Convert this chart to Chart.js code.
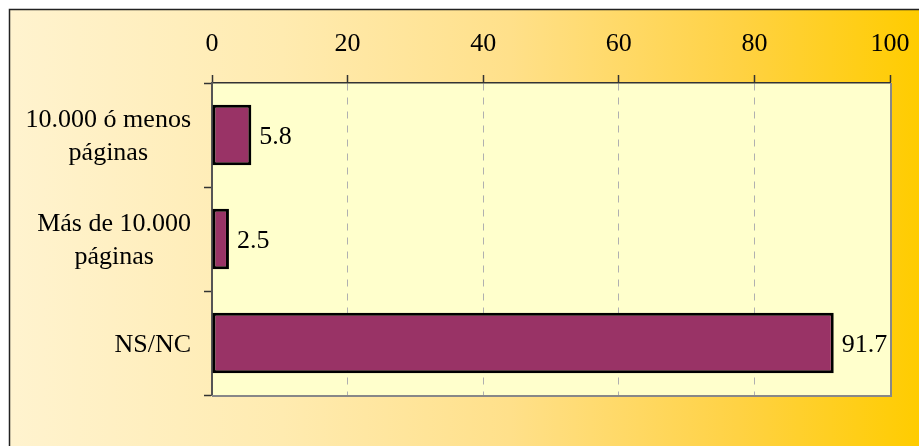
<!DOCTYPE html>
<html>
<head>
<meta charset="utf-8">
<script src="https://cdn.jsdelivr.net/npm/chart.js@4/dist/chart.umd.min.js"></script>
<style>
  body { margin: 0; background: #fff; }
  canvas { display: block; }
</style>
</head>
<body>
<canvas id="chart" width="919" height="446"></canvas>
<script>
const categories = [["10.000 ó menos", "páginas"], ["Más de 10.000", "páginas"], ["NS/NC"]];
const values = [5.8, 2.5, 91.7];
const axisMin = 0;
const axisMax = 100;
const axisStep = 20;

const FONT = "'Liberation Serif', 'Times New Roman', serif";

// background, plot fill, frame lines, category and value labels
const decor = {
  id: "decor",
  beforeDraw(chart) {
    const ctx = chart.ctx;
    const a = chart.chartArea;
    ctx.save();
    ctx.fillStyle = "#fff";
    ctx.fillRect(0, 0, chart.width, chart.height);
    const g = ctx.createLinearGradient(9, 0, chart.width, 0);
    g.addColorStop(0, "#FFF3CF");
    g.addColorStop(0.3, "#FFEBB0");
    g.addColorStop(0.55, "#FFE08A");
    g.addColorStop(0.8, "#FFD244");
    g.addColorStop(1, "#FFCC00");
    ctx.fillStyle = g;
    ctx.fillRect(9, 9, chart.width - 9, chart.height - 9);
    ctx.strokeStyle = "#222";
    ctx.lineWidth = 1.5;
    ctx.beginPath();
    ctx.moveTo(9.5, chart.height);
    ctx.lineTo(9.5, 9.5);
    ctx.lineTo(chart.width, 9.5);
    ctx.stroke();
    ctx.fillStyle = "#FFFFCC";
    ctx.fillRect(a.left, a.top, a.right - a.left, a.bottom - a.top);
    ctx.restore();
  },
  afterDraw(chart) {
    const ctx = chart.ctx;
    const a = chart.chartArea;
    const y = chart.scales.y;
    ctx.save();
    ctx.strokeStyle = "#888";
    ctx.lineWidth = 2;
    ctx.beginPath();
    ctx.moveTo(a.left, a.bottom + 1);
    ctx.lineTo(a.right + 1, a.bottom + 1);
    ctx.lineTo(a.right + 1, a.top);
    ctx.stroke();

    ctx.font = "26px " + FONT;
    ctx.fillStyle = "#000";
    ctx.textBaseline = "alphabetic";
    ctx.textAlign = "center";
    const lh = 33;
    categories.forEach((lines, i) => {
      const c = y.getPixelForValue(i);
      const w = Math.max(...lines.map(l => ctx.measureText(l).width));
      const cx = a.left - 21 - w / 2;
      lines.forEach((l, j) => {
        ctx.fillText(l, cx, c + 8.5 - (lines.length - 1) * lh / 2 + j * lh);
      });
    });

    ctx.textAlign = "left";
    const meta = chart.getDatasetMeta(0);
    meta.data.forEach((bar, i) => {
      ctx.fillText(values[i].toFixed(1), bar.x + 8, bar.y + 8.5);
    });
    ctx.restore();
  }
};

new Chart(document.getElementById("chart"), {
  type: "bar",
  data: {
    labels: categories.map(c => c.join(" ")),
    datasets: [{
      data: values,
      backgroundColor: "#993366",
      borderColor: "#000",
      borderWidth: 3,
      borderSkipped: false,
      barPercentage: 0.58,
      categoryPercentage: 1
    }]
  },
  options: {
    indexAxis: "y",
    responsive: false,
    animation: false,
    layout: { padding: { left: 0, top: 0, right: 29, bottom: 51 } },
    plugins: {
      legend: { display: false },
      tooltip: { enabled: false }
    },
    scales: {
      x: {
        position: "top",
        min: axisMin,
        max: axisMax,
        afterFit: s => { s.height = 83; s.paddingLeft = 0; s.paddingRight = 0; },
        ticks: {
          stepSize: axisStep,
          padding: 15,
          color: "#000",
          font: { family: FONT, size: 26 }
        },
        grid: {
          color: c => (c.tick && (c.tick.value === axisMin || c.tick.value === axisMax)) ? "rgba(0,0,0,0)" : "#B0B0B0",
          lineWidth: 1,
          tickColor: "#333",
          tickLength: 8,
          tickWidth: 1.5
        },
        border: { display: true, color: "#333", width: 1.5, dash: [7, 7] }
      },
      y: {
        afterFit: s => { s.width = 212; },
        ticks: { display: false },
        grid: {
          offset: true,
          drawOnChartArea: false,
          tickColor: "#333",
          tickLength: 8,
          tickWidth: 1.5
        },
        border: { display: true, color: "#555", width: 2 }
      }
    }
  },
  plugins: [decor]
});
</script>
</body>
</html>
